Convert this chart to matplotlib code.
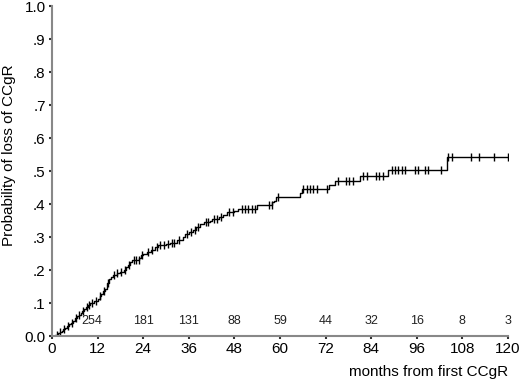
import matplotlib
matplotlib.use("Agg")
import matplotlib.pyplot as plt
import numpy as np

plt.rcParams['font.family'] = ['Liberation Sans', 'DejaVu Sans']

# Step curve: event times (months) and cumulative probability after each step
event_t = [0.8, 1.5, 2, 2.5, 3, 3.5, 4, 4.5, 5, 5.5, 6, 6.5, 7, 7.5, 8, 8.5, 9, 9.5,
           10, 11, 12, 12.5, 13, 13.5, 14, 14.5, 15, 15.5, 16, 17, 18, 19, 19.5, 20,
           20.5, 21, 23, 23.5, 24, 25, 26, 27, 28, 30, 31, 33, 34.5, 35, 36, 37, 38,
           39, 40, 41.5, 42, 44, 45, 46, 48, 49, 54, 58, 58.5, 59, 65.3, 65.8, 73,
           74.5, 81, 88.4, 104]
event_p = [0.004, 0.008, 0.012, 0.016, 0.02, 0.025, 0.03, 0.035, 0.04, 0.045, 0.055,
           0.06, 0.065, 0.07, 0.075, 0.082, 0.088, 0.095, 0.1, 0.105, 0.112, 0.12,
           0.128, 0.135, 0.142, 0.16, 0.172, 0.18, 0.186, 0.19, 0.195, 0.2, 0.21,
           0.215, 0.225, 0.23, 0.235, 0.245, 0.25, 0.255, 0.26, 0.27, 0.275, 0.28,
           0.283, 0.29, 0.3, 0.31, 0.315, 0.32, 0.33, 0.34, 0.347, 0.35, 0.355, 0.36,
           0.367, 0.375, 0.38, 0.385, 0.397, 0.405, 0.41, 0.42, 0.433, 0.445, 0.457,
           0.47, 0.486, 0.502, 0.543]

# Censoring marks (months)
censor_t = [1.2, 2.2, 3.2, 4.2, 5.2, 6.2, 7.2, 8.2, 9.2, 9.8, 10.5, 11.5, 12.7, 13.7,
            14.7, 16.3, 17.2, 18.2, 19.2, 20.2, 21.5, 22.2, 22.8, 23.7, 25.2, 26.3,
            27.5, 28.5, 29.5, 30.5, 31.5, 32.2, 33.5, 35.5, 36.5, 37.5, 38.5, 40.5,
            41, 42.5, 43.5, 44.5, 46.5, 47.5, 49.9, 50.8, 51.7, 52.5, 53.4, 57.2,
            57.8, 59.5, 66.1, 67, 67.9, 68.8, 69.6, 72.4, 75.3, 77.3, 78.2, 79.1,
            81.9, 82.8, 85.2, 86.1, 87.2, 89.4, 90.3, 91.1, 92, 92.9, 95.5, 96.4,
            98.2, 99, 102.3, 104.3, 105.2, 110.2, 112.3, 116.3, 120]

# Numbers at risk
risk_t = [12, 24, 36, 48, 60, 72, 84, 96, 108, 120]
risk_n = [254, 181, 131, 88, 59, 44, 32, 16, 8, 3]

xticks = [0, 12, 24, 36, 48, 60, 72, 84, 96, 108, 120]
yticks = [0.0, 0.1, 0.2, 0.3, 0.4, 0.5, 0.6, 0.7, 0.8, 0.9, 1.0]
ytick_labels = ['0.0', '.1', '.2', '.3', '.4', '.5', '.6', '.7', '.8', '.9', '1.0']

fig = plt.figure(figsize=(5.2, 3.84), dpi=100)
ax = fig.add_axes([0.1, 0.125, 0.877, 0.859])

st = np.concatenate([[0], event_t, [120]])
sp = np.concatenate([[0], event_p, [event_p[-1]]])
ax.step(st, sp, where='post', color='black', lw=1.0)

# step value at each censor time
cp = [sp[np.searchsorted(st, t, side='right') - 1] for t in censor_t]
ax.plot(censor_t, cp, linestyle='none', marker='|', markersize=6, color='black',
        markeredgewidth=1.0)

for t, n in zip(risk_t, risk_n):
    x = t - 1.5 if t == 12 else t
    ax.text(x, 0.045, str(n), ha='center', va='center', fontsize=9, color='#222222')

ax.set_xlim(0, 120)
ax.set_ylim(0, 1.0)
ax.set_xticks(xticks)
ax.set_yticks(yticks)
ax.set_yticklabels(ytick_labels)
ax.tick_params(axis='both', labelsize=11, length=2.5, width=1.5, color='#333333',
               pad=2)
for s in ['top', 'right']:
    ax.spines[s].set_visible(False)
for s in ['left', 'bottom']:
    ax.spines[s].set_color('#888888')
    ax.spines[s].set_linewidth(1.5)

ax.set_ylabel('Probability of loss of CCgR', fontsize=11)
ax.yaxis.set_label_coords(-0.078, 0.548)
fig.text(0.977, 0.03, 'months from first CCgR', ha='right', va='center', fontsize=11)

fig.savefig('out.png', dpi=100)
